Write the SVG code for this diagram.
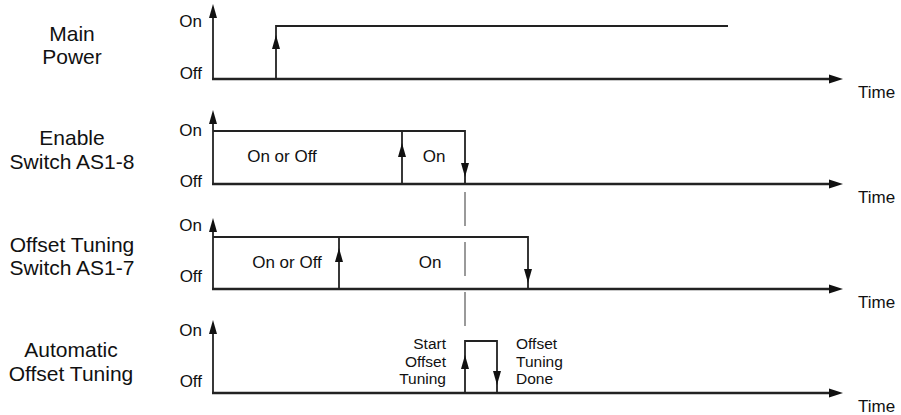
<svg xmlns="http://www.w3.org/2000/svg" xmlns:xlink="http://www.w3.org/1999/xlink" width="901" height="415" viewBox="0 0 901 415">
<style>
text{font-family:"Liberation Sans",Arial,sans-serif;fill:#111}
.lbl{font-size:21px;text-anchor:middle}
.sm{font-size:17px}
.ev{font-size:15.5px}
.r{text-anchor:end}
.c{text-anchor:middle}
.ax{stroke:#222;stroke-width:2.6;fill:none}
.ln{stroke:#222;stroke-width:1.8;fill:none}
.hd{fill:#111}
.dash{stroke:#9a9a9a;stroke-width:2;stroke-dasharray:34 16;fill:none}
</style>
<defs>
<path id="up" class="hd" d="M0,0 L-4,14 L4,14 Z"/>
<path id="down" class="hd" d="M0,0 L-4,-14 L4,-14 Z"/>
<path id="right" class="hd" d="M0,0 L-14,-4.5 L-14,4.5 Z"/>
</defs>
<rect width="901" height="415" fill="#fff"/>

<g id="row-main-power">
<text class="lbl" x="72" y="41">Main</text>
<text class="lbl" x="72" y="64">Power</text>
<text class="sm r" x="202" y="27">On</text>
<text class="sm r" x="202" y="79">Off</text>
<line class="ln" x1="213" y1="10" x2="213" y2="79"/>
<use xlink:href="#up" x="213" y="4"/>
<line class="ax" x1="212" y1="79" x2="832" y2="79"/>
<use xlink:href="#right" x="843" y="79"/>
<text class="sm" x="858" y="98">Time</text>
<polyline class="ln" points="276,79 276,26 728,26"/>
<use xlink:href="#up" x="276" y="35"/>
</g>

<g id="row-enable-switch">
<text class="lbl" x="72" y="145">Enable</text>
<text class="lbl" x="72" y="169">Switch AS1-8</text>
<text class="sm r" x="202" y="136">On</text>
<text class="sm r" x="202" y="187">Off</text>
<line class="ln" x1="213" y1="116" x2="213" y2="184"/>
<use xlink:href="#up" x="213" y="110"/>
<line class="ax" x1="212" y1="184" x2="832" y2="184"/>
<use xlink:href="#right" x="843" y="184"/>
<text class="sm" x="858" y="203">Time</text>
<polyline class="ln" points="213,131 465,131 465,184"/>
<line class="ln" x1="402" y1="131" x2="402" y2="184"/>
<use xlink:href="#up" x="402" y="143"/>
<use xlink:href="#down" x="465" y="177"/>
<text class="sm c" x="282" y="162">On or Off</text>
<text class="sm c" x="434" y="162">On</text>
</g>

<g id="row-offset-switch">
<text class="lbl" x="72" y="252">Offset Tuning</text>
<text class="lbl" x="72" y="275">Switch AS1-7</text>
<text class="sm r" x="202" y="231">On</text>
<text class="sm r" x="202" y="282">Off</text>
<line class="ln" x1="213" y1="224" x2="213" y2="289"/>
<use xlink:href="#up" x="213" y="218"/>
<line class="ax" x1="212" y1="289" x2="832" y2="289"/>
<use xlink:href="#right" x="843" y="289"/>
<text class="sm" x="858" y="308">Time</text>
<polyline class="ln" points="213,237 528,237 528,289"/>
<line class="ln" x1="339" y1="237" x2="339" y2="289"/>
<use xlink:href="#up" x="339" y="248"/>
<use xlink:href="#down" x="528" y="283"/>
<text class="sm c" x="287" y="268">On or Off</text>
<text class="sm c" x="430" y="268">On</text>
</g>

<g id="row-auto-tuning">
<text class="lbl" x="71" y="357">Automatic</text>
<text class="lbl" x="71" y="381">Offset Tuning</text>
<text class="sm r" x="202" y="336">On</text>
<text class="sm r" x="202" y="387">Off</text>
<line class="ln" x1="213" y1="326" x2="213" y2="393"/>
<use xlink:href="#up" x="213" y="320"/>
<line class="ax" x1="212" y1="393" x2="832" y2="393"/>
<use xlink:href="#right" x="843" y="393"/>
<text class="sm" x="858" y="412">Time</text>
<polyline class="ln" points="465,393 465,341 497,341 497,393"/>
<use xlink:href="#up" x="465" y="355"/>
<use xlink:href="#down" x="497" y="385"/>
<text class="ev r" x="446" y="349">Start</text>
<text class="ev r" x="446" y="366.5">Offset</text>
<text class="ev r" x="446" y="384">Tuning</text>
<text class="ev" x="516" y="349">Offset</text>
<text class="ev" x="516" y="366.5">Tuning</text>
<text class="ev" x="516" y="384">Done</text>
</g>

<g id="connectors">
<line class="dash" x1="465" y1="192" x2="465" y2="326"/>
</g>
</svg>
